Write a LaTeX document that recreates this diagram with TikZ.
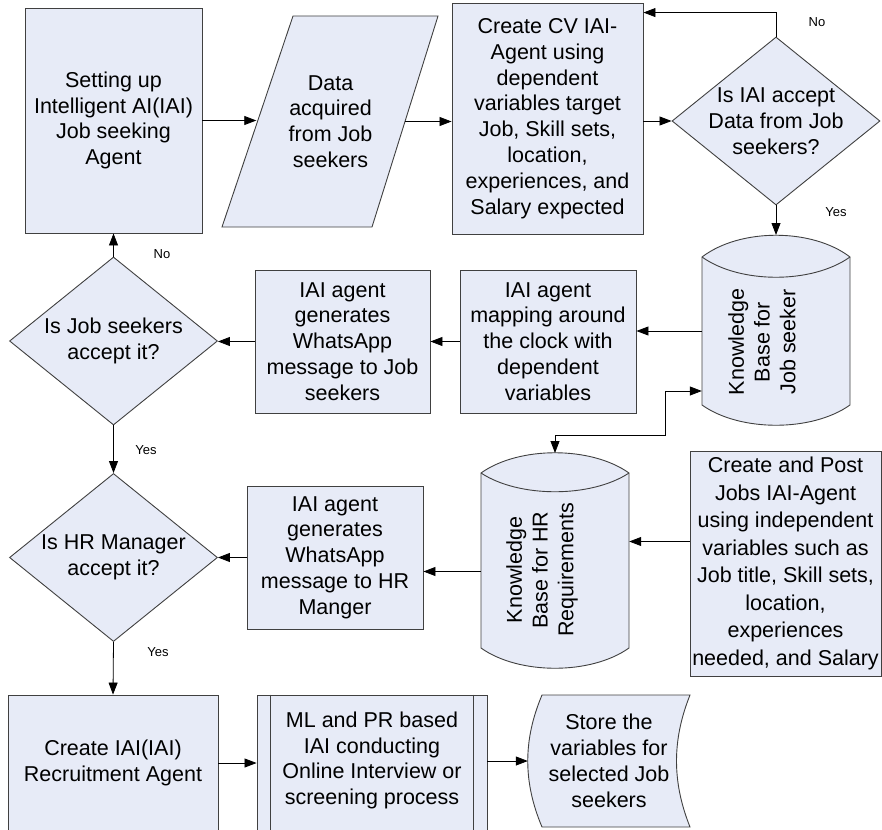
\documentclass[tikz,border=0pt]{standalone}
\usepackage{fontspec}
\setmainfont{Liberation Sans}
\usetikzlibrary{arrows.meta,shapes.geometric}
\definecolor{boxfill}{RGB}{231,235,247}
\definecolor{boxline}{RGB}{64,64,64}
\tikzset{
  box/.style={draw=boxline,fill=boxfill,line width=0.9pt,align=center,inner sep=2pt},
  decision/.style={diamond,draw=boxline,fill=boxfill,line width=0.9pt,inner sep=0pt},
  shapeline/.style={draw=boxline,fill=boxfill,line width=0.9pt},
  arr/.style={-{Triangle[length=12pt,width=9pt]},line width=0.8pt},
  arrboth/.style={{Triangle[length=12pt,width=9pt]}-{Triangle[length=12pt,width=9pt]},line width=0.8pt},
  tag/.style={font=\fontsize{13}{15}\selectfont}
}

\begin{document}
\begin{tikzpicture}[x=1pt,y=-1pt,font=\fontsize{21.5}{25.8}\selectfont]
  \useasboundingbox (0,0) rectangle (882,829);

  % process boxes
  \foreach \n/\x/\y/\w/\h/\t in {
    setup/113.5/120.5/177/225/{Setting up\\Intelligent AI(IAI)\\Job seeking\\Agent},
    cv/547.5/118.5/191/231/{Create CV IAI-\\Agent using\\dependent\\variables target\\Job, Skill sets,\\location,\\experiences, and\\Salary expected},
    mapping/548/341.5/176/143/{IAI agent\\mapping around\\the clock with\\dependent\\variables},
    seekmsg/342.5/341.5/175/143/{IAI agent\\generates\\WhatsApp\\message to Job\\seekers},
    hrmsg/335/557.5/176/143/{IAI agent\\generates\\WhatsApp\\message to HR\\Manger},
    recruit/113/763/210/136/{Create IAI(IAI)\\Recruitment Agent}}
    \node[box,minimum width=\w pt,minimum height=\h pt] (\n) at (\x,\y) {\t};
  \node[box,minimum width=191pt,minimum height=225pt,font=\fontsize{21.5}{27.5}\selectfont] (post) at (785.5,563.5)
    {Create and Post\\Jobs IAI-Agent\\using independent\\variables such as\\Job title, Skill sets,\\location,\\experiences\\needed, and Salary};

  % decisions
  \foreach \n/\x/\y/\t in {
    acceptiai/776/121/{Is IAI accept\\Data from Job\\seekers?},
    acceptseek/113.5/341/{Is Job seekers\\accept it?},
    accepthr/113.5/557.5/{Is HR Manager\\accept it?}}
  {
    \node[decision,minimum width=208pt,minimum height=168pt] (\n) at (\x,\y) {};
    \node[align=center] (\n-txt) at (\n) {\t};
  }

  % input data
  \path[shapeline] (222,227) -- (372,227) -- (438,16) -- (293,16) -- cycle;
  \node[align=center,minimum width=148pt,minimum height=211pt] (data) at (330.5,121.5) {Data\\acquired\\from Job\\seekers};

  % knowledge bases
  \path[shapeline] (702,257) .. controls (740,228) and (812,228) .. (850,257) -- (850,405)
    .. controls (812,432) and (740,432) .. (702,405) -- cycle;
  \draw[boxline,line width=0.9pt] (702,257) .. controls (740,284) and (812,284) .. (850,257);
  \node[minimum width=148pt,minimum height=148pt] (kbseek) at (776,331) {};
  \coordinate (kbseektop) at (776,235);
  \node[rotate=90,align=center] (kbseek-txt) at (762,342) {Knowledge\\Base for\\Job seeker};

  \path[shapeline] (481,473) .. controls (519,446) and (591,446) .. (629,473) -- (629,648)
    .. controls (591,675) and (519,675) .. (481,648) -- cycle;
  \draw[boxline,line width=0.9pt] (481,473) .. controls (519,498) and (591,498) .. (629,473);
  \node[minimum width=148pt,minimum height=175pt] (kbhr) at (555,560.5) {};
  \coordinate (kbhrtop) at (555,453);
  \node[rotate=90,align=center] (kbhr-txt) at (542,570) {Knowledge\\Base for HR\\Requirements};

  % interview (predefined process)
  \node[box,minimum width=230pt,minimum height=136pt] (interview) at (372,763)
    {ML and PR based\\IAI conducting\\Online Interview or\\screening process\\[-16pt]\mbox{}};
  \draw[boxline,line width=0.9pt] ([xshift=14pt]interview.north west) -- ([xshift=14pt]interview.south west)
    ([xshift=-14pt]interview.north east) -- ([xshift=-14pt]interview.south east);

  % stored data
  \path[shapeline] (542,695) .. controls (523,740) and (523,782) .. (542,827) -- (690,827)
    .. controls (672,782) and (672,740) .. (690,695) -- cycle;
  \node[align=center,minimum width=162pt,minimum height=132pt] (store) at (609,761)
    {Store the\\variables for\\selected Job\\seekers};

  % connectors
  \coordinate (postout) at ([yshift=22pt]post.west);
  \coordinate (hrout) at ([yshift=-11pt]kbhr.west);
  \draw[arr] (setup.east) -- (setup.east -| data.west);
  \draw[arr] (data.east) -- (data.east -| cv.west);
  \draw[arr] (cv.east |- acceptiai.west) -- (acceptiai.west);
  \draw[arr] (acceptiai.north) |- ([yshift=-10pt]cv.north east);
  \draw[arr] (acceptiai.south) -- (kbseektop);
  \draw[arr] (kbseek.west) -- (kbseek.west -| mapping.east);
  \draw[arr] (mapping.west) -- (seekmsg.east);
  \draw[arr] (seekmsg.west) -- (seekmsg.west -| acceptseek.east);
  \draw[arr] (acceptseek.north) -- (setup.south);
  \draw[arr] (acceptseek.south) -- (accepthr.north);
  \draw[arrboth] ([yshift=-60pt]kbseek.west) -- ++(-36,0) -- ++(0,44) -| (kbhrtop);
  \draw[arr] (postout) -- (postout -| kbhr.east);
  \draw[arr] (hrout) -- (hrout -| hrmsg.east);
  \draw[arr] (hrmsg.west) -- (accepthr.east);
  \draw[arr] (accepthr.south) -- (recruit.north);
  \draw[arr] (recruit.east) -- (interview.west);
  \draw[arr] (interview.east |- store.west) -- (store.west);

  % branch labels
  \node[tag] (no-iai) at (817,22) {No};
  \node[tag] (yes-iai) at (836,212) {Yes};
  \node[tag] (no-seek) at (162,254) {No};
  \node[tag] (yes-seek) at (146,450) {Yes};
  \node[tag] (yes-hr) at (158,652) {Yes};
\end{tikzpicture}
\end{document}
